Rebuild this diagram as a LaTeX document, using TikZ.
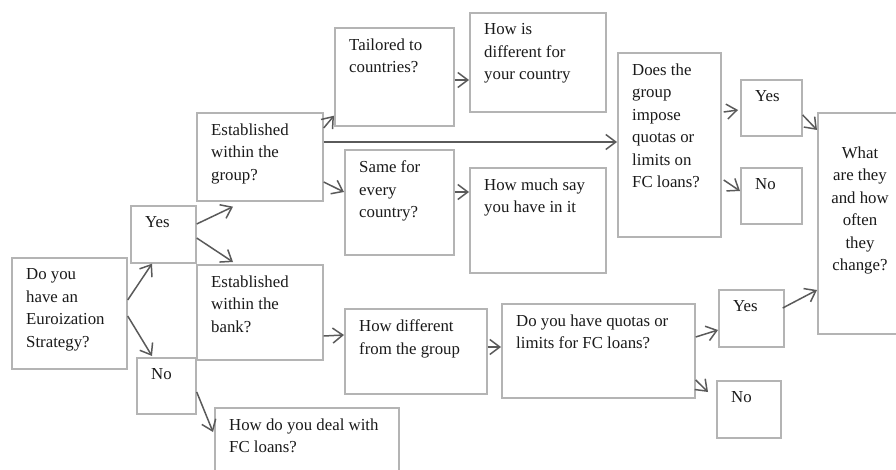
\documentclass[tikz,border=0pt]{standalone}
\usepackage{fontspec}
\setmainfont{Liberation Serif}
\usetikzlibrary{calc,arrows.meta}
\definecolor{boxline}{HTML}{B4B4B4}
\definecolor{arrowline}{HTML}{5A5A5A}
\definecolor{txtcol}{HTML}{1A1A1A}
\newcommand\qbox[6]{%
  \node[qbox, minimum width=#4pt, minimum height=#5pt] (#1) at (#2,#3) {};
  \node[qtxt] (#1-t) at ($(#1.north west)+(15,11.5)$) {#6};}
\begin{document}
\begin{tikzpicture}[x=1pt,y=-1pt,
  qbox/.style={draw=boxline, line width=1.7pt, fill=white, inner sep=0pt, anchor=north west},
  qtxt/.style={anchor=north west, inner sep=0pt, align=left, text=txtcol,
    font=\fontsize{16.8}{22.5}\selectfont},
  arr/.style={draw=arrowline, line width=1.5pt, -{Straight Barb[length=10pt,width=15pt,line width=1.5pt]}}]
\useasboundingbox (0,0) rectangle (896,470);
\qbox{A}{11}{257}{115}{111}{Do you\\have an\\Euroization\\Strategy?}
\qbox{Y1}{130}{205}{65}{57}{Yes}
\qbox{N1}{136}{357}{59}{56}{No}
\qbox{EG}{196}{112}{126}{88}{Established\\within the\\group?}
\qbox{EB}{196}{264}{126}{95}{Established\\within the\\bank?}
\qbox{HD}{214}{407}{184}{80}{How do you deal with\\FC loans?}
\qbox{TC}{334}{27}{119}{98}{Tailored to\\countries?}
\qbox{SF}{344}{149}{109}{105}{Same for\\every\\country?}
\qbox{HDG}{344}{308}{142}{85}{How different\\from the group}
\qbox{HI}{469}{12}{136}{99}{How is\\different for\\your country}
\qbox{HM}{469}{167}{136}{105}{How much say\\you have in it}
\qbox{DG}{617}{52}{103}{184}{Does the\\group\\impose\\quotas or\\limits on\\FC loans?}
\qbox{Q}{501}{303}{193}{94}{Do you have quotas or\\limits for FC loans?}
\qbox{Y2}{740}{79}{61}{56}{Yes}
\qbox{N2}{740}{167}{61}{56}{No}
\qbox{Y3}{718}{289}{65}{57}{Yes}
\qbox{N3}{716}{380}{64}{57}{No}
\node[qbox, minimum width=86pt, minimum height=221pt] (W) at (817,112) {};
\node[qtxt, anchor=north, align=center] (W-t) at (860,146.5) {What\\are they\\and how\\often\\they\\change?};
% connectors
\draw[arr] ($(A.north east)+(0,43)$) -- ($(Y1.south west)+(22,0)$);
\draw[arr] ($(A.north east)+(0,59)$) -- ($(N1.north west)+(16,-1)$);
\draw[arr] ($(Y1.north east)+(0,19)$) -- ($(EG.south west)+(37,5)$);
\draw[arr] ($(Y1.north east)+(0,33)$) -- ($(EB.north west)+(37,-2)$);
\draw[arr] ($(EG.north east)+(0,16)$) -- ($(TC.south west)+(0,-11)$);
\draw[arr] ($(EG.north east)+(0,30)$) -- ($(DG.north west)+(0,90)$);
\draw[arr] ($(EG.north east)+(0,70)$) -- ($(SF.north west)+(0,43)$);
\draw[arr] ($(TC.north east)+(0,53)$) -- ($(HI.north west)+(0,68)$);
\draw[arr] ($(SF.north east)+(0,43)$) -- ($(HM.north west)+(0,25)$);
\draw[arr] ($(DG.north east)+(2,60)$) -- ($(Y2.north west)+(-2,31)$);
\draw[arr] ($(DG.north east)+(2,128)$) -- ($(N2.north west)+(0,24)$);
\draw[arr] ($(Y2.north east)+(0,36)$) -- ($(W.north west)+(0,18)$);
\draw[arr] ($(EB.north east)+(0,72)$) -- ($(HDG.north west)+(0,27)$);
\draw[arr] ($(N1.north east)+(0,35)$) -- ($(HD.north west)+(-1,25)$);
\draw[arr] ($(HDG.north east)+(0,39)$) -- ($(Q.north west)+(0,44)$);
\draw[arr] ($(Q.north east)+(0,34)$) -- ($(Y3.north west)+(0,41)$);
\draw[arr] ($(Q.north east)+(0,77)$) -- ($(N3.north west)+(-8,12)$);
\draw[arr] ($(Y3.north east)+(-2,19)$) -- ($(W.north west)+(0,178)$);
\end{tikzpicture}
\end{document}
